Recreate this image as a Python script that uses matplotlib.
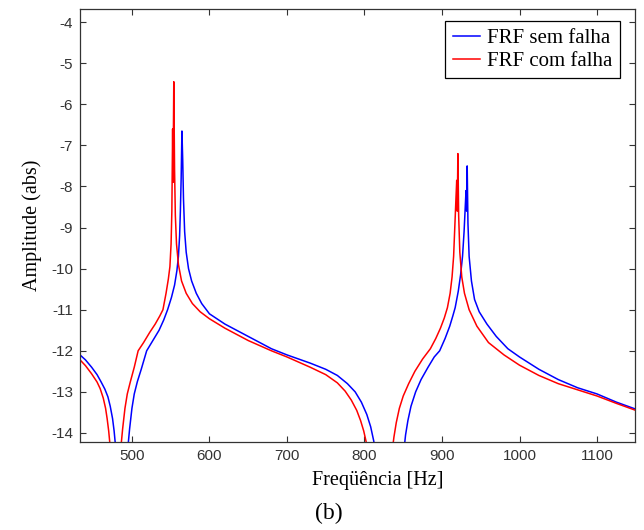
import matplotlib
matplotlib.use("Agg")
import matplotlib.pyplot as plt

plt.rcParams["axes.unicode_minus"] = False

# FRF sem falha (azul)
freq_sem = [433, 440, 448, 455, 460, 465, 469, 472, 475, 477, 479, 487,
            495, 497, 500, 503, 507, 512, 519, 527, 535, 541, 546, 551, 555, 558, 560,
            561.5, 562.5, 563.5, 564.5, 565.5, 566.5, 568, 570, 573, 577, 583, 590,
            600, 620, 650, 680, 700, 730, 750, 765, 778, 788, 796, 803, 808, 812, 814,
            833, 851, 853, 856, 860, 866, 873, 882, 890, 897, 904, 910, 914, 917, 921,
            924, 926.5, 928.5, 930, 931, 931.8, 932.5, 933.5, 935, 938, 942, 948, 958,
            970, 985, 1000, 1025, 1050, 1075, 1100, 1125, 1150]
amp_sem = [-12.1, -12.22, -12.4, -12.58, -12.75, -12.93, -13.12, -13.35, -13.65, -13.95, -14.35, -16,
           -14.3, -13.9, -13.4, -13.05, -12.75, -12.45, -12.0, -11.75, -11.5, -11.25, -11.0, -10.7,
           -10.4, -10.05, -9.7, -9.2, -8.6, -7.8, -6.65, -7.35, -8.3, -9.1, -9.6, -10.0, -10.3,
           -10.6, -10.85, -11.1, -11.35, -11.65, -11.95, -12.1, -12.3, -12.45, -12.6, -12.8,
           -13.0, -13.25, -13.55, -13.85, -14.2, -14.45, -16, -14.4, -14.05, -13.7, -13.35,
           -13.0, -12.7, -12.4, -12.15, -12.0, -11.7, -11.4, -11.15, -10.95, -10.55, -10.15,
           -9.7, -9.1, -8.5, -8.1, -8.6, -7.5, -8.9, -9.7, -10.3, -10.75, -11.05, -11.35,
           -11.65, -11.95, -12.15, -12.45, -12.7, -12.9, -13.05, -13.25, -13.42]

# FRF com falha (vermelho)
freq_com = [433, 440, 448, 455, 459, 463, 466, 468, 470, 472, 479,
            486, 488, 491, 494, 498, 503, 508, 515, 523, 530, 536, 540, 544, 547, 549,
            550.5, 551.5, 552.5, 553, 554, 555, 556, 557.5, 560, 564, 570, 578, 588,
            600, 620, 650, 680, 700, 730, 750, 765, 775, 783, 790, 795, 799, 802, 804,
            820, 836, 838, 841, 845, 850, 857, 865, 875, 885, 892, 898, 903, 907, 910.5,
            913, 915, 916.5, 918, 919, 919.7, 920.5, 921.5, 923, 925.5, 929, 935, 945,
            960, 980, 1000, 1025, 1050, 1075, 1100, 1125, 1150]
amp_com = [-12.22, -12.36, -12.56, -12.76, -12.92, -13.15, -13.4, -13.65, -13.95, -14.35, -16,
           -14.3, -13.9, -13.4, -13.05, -12.75, -12.4, -12.0, -11.8, -11.55, -11.35, -11.15,
           -11.0, -10.6, -10.25, -9.95, -9.4, -8.6, -6.6, -7.9, -5.45, -7.6, -8.7, -9.4,
           -9.9, -10.3, -10.6, -10.85, -11.05, -11.22, -11.45, -11.75, -12.0, -12.15, -12.4,
           -12.58, -12.78, -12.98, -13.2, -13.45, -13.7, -13.95, -14.2, -14.45, -16, -14.4,
           -14.1, -13.75, -13.4, -13.1, -12.8, -12.5, -12.2, -11.95, -11.7, -11.45, -11.2,
           -10.95, -10.6, -10.2, -9.7, -9.0, -8.3, -7.85, -8.6, -7.2, -8.7, -9.6, -10.2,
           -10.6, -11.0, -11.4, -11.8, -12.1, -12.35, -12.6, -12.8, -12.95, -13.1, -13.28, -13.45]

xticks = [500, 600, 700, 800, 900, 1000, 1100]
yticks = list(range(-14, -3))

serif = "Liberation Serif"
sans = "Liberation Sans"

fig = plt.figure(figsize=(6.44, 5.30), dpi=100)
ax = fig.add_axes([80 / 644, 88 / 530, 555 / 644, 433 / 530])

ax.plot(freq_sem, amp_sem, color="#0000ff", lw=1.1, label="FRF sem falha")
ax.plot(freq_com, amp_com, color="#ff0000", lw=1.1, label="FRF com falha")

ax.set_xlim(433, 1149)
ax.set_ylim(-14.22, -3.68)
ax.set_xticks(xticks)
ax.set_yticks(yticks)
ax.tick_params(direction="in", top=True, right=True, length=4, width=0.8,
               colors="#333333", labelsize=11, pad=5)
for lab in ax.get_xticklabels() + ax.get_yticklabels():
    lab.set_fontfamily(sans)
for s in ax.spines.values():
    s.set_color("#333333")
    s.set_linewidth(0.9)

fig.text(378 / 644, 1 - 480 / 530, "Freqüência [Hz]", family=serif, fontsize=14.5,
         ha="center", va="center")
fig.text(32 / 644, 1 - 225 / 530, "Amplitude (abs)", family=serif, fontsize=14.5,
         ha="center", va="center", rotation=90)
fig.text(329 / 644, 1 - 513 / 530, "(b)", family=serif, fontsize=17,
         ha="center", va="center")

leg = ax.legend(loc="upper right", bbox_to_anchor=(0.973, 0.972), borderaxespad=0,
                fancybox=False, framealpha=1, edgecolor="black",
                prop={"family": serif, "size": 15}, handlelength=1.3,
                handletextpad=0.35, labelspacing=0.15, borderpad=0.36)
leg.get_frame().set_linewidth(0.9)

fig.savefig("out.png", dpi=100)
